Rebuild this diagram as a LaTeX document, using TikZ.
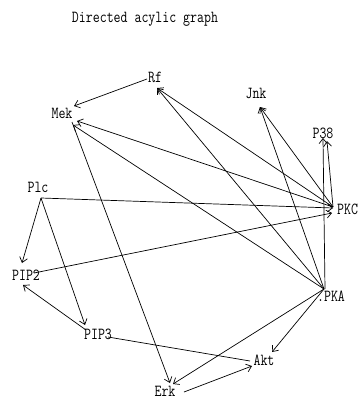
\documentclass[tikz,border=0pt]{standalone}
\usepackage{fontspec}
\usetikzlibrary{arrows.meta}
\newcommand{\lbltxt}[1]{\scalebox{1}[1.25]{#1}}
\begin{document}
\begin{tikzpicture}[x=1pt,y=-1pt,
  lbl/.style={font=\ttfamily\fontsize{13.5}{13.5}\selectfont, inner sep=0pt, text=black},
  edge/.style={line width=0.7pt, -{Straight Barb[length=5pt,width=8pt,line width=0.7pt]}},
  plainedge/.style={line width=0.7pt}]
\useasboundingbox (0,0) rectangle (358,399);
\fill[white] (0,0) rectangle (358,399);
% labels
\node[lbl] (title) at (145,19) {\lbltxt{Directed acylic graph}};
\node[lbl] (Rf)   at (155,77)  {\lbltxt{Rf}};
\node[lbl] (Mek)  at (62,113)  {\lbltxt{Mek}};
\node[lbl] (Jnk)  at (256,93)  {\lbltxt{Jnk}};
\node[lbl] (P38)  at (323,133) {\lbltxt{P38}};
\node[lbl,anchor=west] (PKC) at (337,209) {\lbltxt{PKC}};
\node[lbl] (Plc)  at (38,187)  {\lbltxt{Plc}};
\node[lbl] (PIP2) at (26,275)  {\lbltxt{PIP2}};
\node[lbl] (PIP3) at (98,334)  {\lbltxt{PIP3}};
\node[lbl] (PKA)  at (331,296) {\lbltxt{.PKA}};
\node[lbl] (Akt)  at (264,360) {\lbltxt{Akt}};
\node[lbl] (Erk)  at (165,391) {\lbltxt{Erk}};
% ports
\coordinate (RfP) at (147,79);
\coordinate (RfT) at (157,88);
\coordinate (MekA) at (74,106);
\coordinate (MekB) at (77,121);
\coordinate (MekC) at (73,125);
\coordinate (MekS) at (72,122);
\coordinate (JnkT) at (260,107);
\coordinate (P38A) at (323,138);
\coordinate (P38B) at (327,141);
\coordinate (PKCP) at (333,207);
\coordinate (PKCA) at (333,208);
\coordinate (PKCB) at (332,213);
\coordinate (PlcP) at (41,198);
\coordinate (PIP2A) at (22,263);
\coordinate (PIP2B) at (23,285);
\coordinate (PIP2P) at (34,273);
\coordinate (PIP3T) at (85,325);
\coordinate (PIP3P) at (86,330);
\coordinate (PIP3R) at (108,337);
\coordinate (PKAP) at (324,289);
\coordinate (PKAV) at (325,289);
\coordinate (ErkA) at (170,383);
\coordinate (ErkB) at (173,384);
\coordinate (ErkP) at (184,392);
\coordinate (AktA) at (272,352);
\coordinate (AktB) at (252,366);
\coordinate (AktL) at (250,361);
% edges
\draw[edge] (RfP) -- (MekA);
\draw[edge] (PKCP) -- (MekB);
\draw[edge] (PKAP) -- (MekC);
\draw[edge] (PKAP) -- (RfT);
\draw[edge] (PKCP) -- (RfT);
\draw[edge] (PKAP) -- (JnkT);
\draw[edge] (PKCP) -- (JnkT);
\draw[edge] (PKAV) -- (P38A);
\draw[edge] (PKCP) -- (P38B);
\draw[edge] (PlcP) -- (PKCA);
\draw[edge] (PIP2P) -- (PKCB);
\draw[edge] (PlcP) -- (PIP2A);
\draw[edge] (PlcP) -- (PIP3T);
\draw[edge] (PIP3P) -- (PIP2B);
\draw[plainedge] (PIP3R) -- (AktL);
\draw[edge] (MekS) -- (ErkA);
\draw[edge] (PKAP) -- (ErkB);
\draw[edge] (PKAP) -- (AktA);
\draw[edge] (ErkP) -- (AktB);
\end{tikzpicture}
\end{document}
